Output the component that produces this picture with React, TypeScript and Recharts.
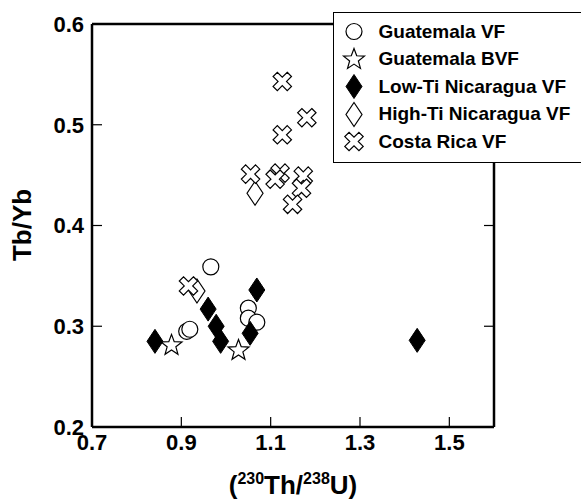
import React from 'react';
import { ScatterChart, Scatter, XAxis, YAxis } from 'recharts';

const xTicks = [0.7, 0.9, 1.1, 1.3, 1.5];
const yTicks = [0.2, 0.3, 0.4, 0.5, 0.6];

const guatemalaVF = [
  { x: 0.966, y: 0.359 },
  { x: 0.912, y: 0.295 },
  { x: 0.919, y: 0.297 },
  { x: 1.05, y: 0.318 },
  { x: 1.05, y: 0.308 },
  { x: 1.069, y: 0.304 },
];
const guatemalaBVF = [
  { x: 0.878, y: 0.281 },
  { x: 1.028, y: 0.276 },
];
const lowTiNicaragua = [
  { x: 0.841, y: 0.285 },
  { x: 0.96, y: 0.317 },
  { x: 0.978, y: 0.3 },
  { x: 0.988, y: 0.285 },
  { x: 1.054, y: 0.293 },
  { x: 1.069, y: 0.336 },
  { x: 1.428, y: 0.286 },
];
const highTiNicaragua = [
  { x: 0.935, y: 0.335 },
  { x: 1.065, y: 0.432 },
];
const costaRica = [
  { x: 0.916, y: 0.34 },
  { x: 1.126, y: 0.543 },
  { x: 1.181, y: 0.507 },
  { x: 1.126, y: 0.49 },
  { x: 1.055, y: 0.451 },
  { x: 1.121, y: 0.452 },
  { x: 1.11, y: 0.446 },
  { x: 1.173, y: 0.449 },
  { x: 1.169, y: 0.437 },
  { x: 1.149, y: 0.421 },
];

const FONT = '"Liberation Sans", Arial, Helvetica, sans-serif';

const Circle = ({ cx, cy }: any) => (
  <circle cx={cx} cy={cy} r={8} fill="#fff" stroke="#000" strokeWidth={1.2} />
);

const starPoints = (cx: number, cy: number, R: number, r: number) => {
  const pts: string[] = [];
  for (let i = 0; i < 10; i++) {
    const rad = i % 2 === 0 ? R : r;
    const a = -Math.PI / 2 + (i * Math.PI) / 5;
    pts.push(`${cx + rad * Math.cos(a)},${cy + rad * Math.sin(a)}`);
  }
  return pts.join(' ');
};
const Star = ({ cx, cy }: any) => (
  <polygon points={starPoints(cx, cy, 11, 4.6)} fill="#fff" stroke="#000" strokeWidth={1.2} />
);

const diamondPoints = (cx: number, cy: number) =>
  `${cx},${cy - 12} ${cx + 8},${cy} ${cx},${cy + 12} ${cx - 8},${cy}`;
const FilledDiamond = ({ cx, cy }: any) => (
  <polygon points={diamondPoints(cx, cy)} fill="#000" stroke="#000" strokeWidth={1} />
);
const OpenDiamond = ({ cx, cy }: any) => (
  <polygon points={diamondPoints(cx, cy)} fill="#fff" stroke="#000" strokeWidth={1.2} />
);

const crossPoints = (cx: number, cy: number) => {
  const w = 3;
  const L = 10;
  const base = [
    [-w, -L], [w, -L], [w, -w], [L, -w], [L, w], [w, w],
    [w, L], [-w, L], [-w, w], [-L, w], [-L, -w], [-w, -w],
  ];
  const c = Math.cos(Math.PI / 4);
  const s = Math.sin(Math.PI / 4);
  return base
    .map(([px, py]) => `${cx + px * c - py * s},${cy + px * s + py * c}`)
    .join(' ');
};
const Cross = ({ cx, cy }: any) => (
  <polygon points={crossPoints(cx, cy)} fill="#fff" stroke="#000" strokeWidth={1.2} />
);

const legendItems = [
  { name: 'Guatemala VF', Shape: Circle },
  { name: 'Guatemala BVF', Shape: Star },
  { name: 'Low-Ti Nicaragua VF', Shape: FilledDiamond },
  { name: 'High-Ti Nicaragua VF', Shape: OpenDiamond },
  { name: 'Costa Rica VF', Shape: Cross },
];

const LegendBox = () => (
  <div
    style={{
      position: 'absolute',
      left: 333,
      top: 12,
      background: '#fff',
      border: '1.5px solid #000',
      width: 262,
      height: 151,
      boxSizing: 'border-box',
      paddingTop: 5,
    }}
  >
    {legendItems.map(({ name, Shape }) => (
      <div key={name} style={{ display: 'flex', alignItems: 'center', height: 27.5 }}>
        <svg width={30} height={27} style={{ marginLeft: 4.5, flex: 'none' }}>
          <Shape cx={15} cy={13.5} />
        </svg>
        <span
          style={{
            fontFamily: FONT,
            fontWeight: 'bold',
            fontSize: 19,
            marginLeft: 10,
            color: '#000',
            whiteSpace: 'nowrap',
          }}
        >
          {name}
        </span>
      </div>
    ))}
  </div>
);

const tickStyle = { fontFamily: FONT, fontWeight: 'bold' as const, fontSize: 22, fill: '#000' };
const axisLine = { stroke: '#000', strokeWidth: 2.5 };
const tickLine = { stroke: '#000', strokeWidth: 1.2 };
const blank = () => '';

export default function App() {
  return (
    <div style={{ position: 'absolute', left: 0, top: 0, width: 581, height: 499, background: '#fff', overflow: 'hidden' }}>
      <ScatterChart width={581} height={499} margin={{ top: 0, right: 0, bottom: 0, left: 0 }}>
        <XAxis
          dataKey="x"
          type="number"
          xAxisId={0}
          domain={[0.7, 1.6]}
          ticks={xTicks}
          tickFormatter={(v: number) => v.toFixed(1)}
          height={72}
          axisLine={axisLine}
          tickLine={tickLine}
          tickSize={-10}
          tickMargin={17}
          tick={tickStyle}
          interval={0}
          allowDataOverflow
        />
        <XAxis
          type="number"
          xAxisId="top"
          orientation="top"
          domain={[0.7, 1.6]}
          ticks={xTicks}
          height={24}
          axisLine={axisLine}
          tickLine={tickLine}
          tickSize={-10}
          tickFormatter={blank}
          interval={0}
          allowDataOverflow
        />
        <YAxis
          dataKey="y"
          type="number"
          yAxisId={0}
          domain={[0.2, 0.6]}
          ticks={yTicks}
          tickFormatter={(v: number) => v.toFixed(1)}
          width={92}
          axisLine={axisLine}
          tickLine={tickLine}
          tickSize={-10}
          tickMargin={18}
          tick={tickStyle}
          interval={0}
          allowDataOverflow
        />
        <YAxis
          type="number"
          yAxisId="right"
          orientation="right"
          domain={[0.2, 0.6]}
          ticks={yTicks}
          width={87}
          axisLine={axisLine}
          tickLine={tickLine}
          tickSize={-10}
          tickFormatter={blank}
          interval={0}
          allowDataOverflow
        />
        <Scatter name="Guatemala VF" data={guatemalaVF} shape={(p: any) => <Circle cx={p.cx} cy={p.cy} />} isAnimationActive={false} />
        <Scatter name="Guatemala BVF" data={guatemalaBVF} shape={(p: any) => <Star cx={p.cx} cy={p.cy} />} isAnimationActive={false} />
        <Scatter name="High-Ti Nicaragua VF" data={highTiNicaragua} shape={(p: any) => <OpenDiamond cx={p.cx} cy={p.cy} />} isAnimationActive={false} />
        <Scatter name="Costa Rica VF" data={costaRica} shape={(p: any) => <Cross cx={p.cx} cy={p.cy} />} isAnimationActive={false} />
        <Scatter name="Low-Ti Nicaragua VF" data={lowTiNicaragua} shape={(p: any) => <FilledDiamond cx={p.cx} cy={p.cy} />} isAnimationActive={false} />
        <text x={22} y={225} transform="rotate(-90 22 225)" textAnchor="middle" dominantBaseline="central" style={{ fontFamily: FONT, fontWeight: 'bold', fontSize: 26 }} fill="#000">
          Tb/Yb
        </text>
        <text x={293} y={494} textAnchor="middle" style={{ fontFamily: FONT, fontWeight: 'bold', fontSize: 26 }} fill="#000">
          <tspan>(</tspan>
          <tspan dy={-10} fontSize={16}>230</tspan>
          <tspan dy={10}>Th/</tspan>
          <tspan dy={-10} fontSize={16}>238</tspan>
          <tspan dy={10}>U)</tspan>
        </text>
      </ScatterChart>
      <LegendBox />
    </div>
  );
}
